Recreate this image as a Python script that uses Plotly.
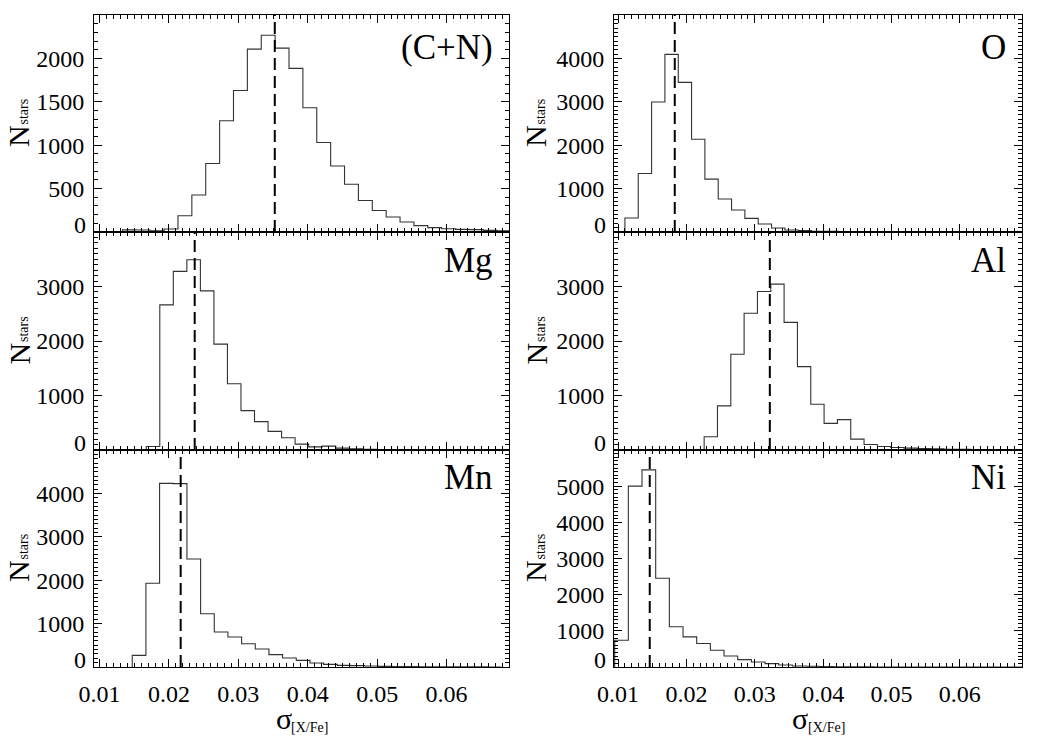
import plotly.graph_objects as go

# ---------------- data ----------------
panel_names = ["(C+N)", "O", "Mg", "Al", "Mn", "Ni"]

# histogram: first bin edge, bin width, counts per bin
cn_start, cn_width = 0.0093, 0.0020
cn_counts = [0, 0, 25, 23, 15, 35, 187, 427, 790, 1282, 1630, 2107, 2267, 2118, 1885,
             1431, 1031, 760, 550, 363, 248, 172, 115, 73, 50, 38, 30, 27, 19, 15]

o_start, o_width = 0.0110, 0.00195
o_counts = [322, 1349, 2996, 4092, 3448, 2138, 1218, 759, 506, 314, 184, 92, 46, 31,
            15, 15, 8, 8, 0, 0, 0, 0, 0, 0, 0, 0, 0, 0, 0, 0, 0]

mg_start, mg_width = 0.01673, 0.00195
mg_counts = [65, 2662, 3277, 3492, 2920, 1942, 1215, 723, 520, 342, 225, 108, 58, 71,
             34, 22, 15, 9, 6, 4, 3, 2, 0, 0, 0, 0]

al_start, al_width = 0.02259, 0.00195
al_counts = [243, 809, 1757, 2508, 2908, 3043, 2342, 1529, 840, 489, 557, 200, 102, 65,
             46, 34, 28, 22, 15, 12, 10, 8, 6]

mn_start, mn_width = 0.01471, 0.00197
mn_counts = [268, 1931, 4230, 4225, 2490, 1226, 805, 690, 536, 414, 284, 207, 153, 92,
             61, 38, 31, 23, 15, 12, 9, 7, 5, 4, 3, 2, 0]

ni_start, ni_width = 0.0095, 0.0020
ni_counts = [741, 5000, 5450, 2454, 1111, 833, 648, 463, 306, 204, 139, 93, 56, 28,
             19, 12, 8, 5, 3, 2, 0, 0, 0, 0, 0, 0, 0, 0, 0, 0]

# median (dashed line) positions
median_values = [0.03525, 0.01829, 0.02371, 0.0322, 0.02169, 0.01463]

# axis settings
y_max = [2500, 5000, 4000, 4000, 5000, 6000]
y_step = [500, 1000, 1000, 1000, 1000, 1000]
x_tick_vals = [0.01, 0.02, 0.03, 0.04, 0.05, 0.06]
x_tick_text = ["0.01", "0.02", "0.03", "0.04", "0.05", "0.06"]
x_ranges = [[0.0092, 0.0690], [0.0094, 0.0691]]

hists = [(cn_start, cn_width, cn_counts), (o_start, o_width, o_counts),
         (mg_start, mg_width, mg_counts), (al_start, al_width, al_counts),
         (mn_start, mn_width, mn_counts), (ni_start, ni_width, ni_counts)]

# ---------------- layout geometry (pixels) ----------------
W, H = 1050, 750
col_px = [(94, 509), (614, 1022)]
row_px = [(15, 232), (232, 450), (450, 667)]
FONT = "Liberation Serif, Times New Roman, serif"
TICK_SIZE = 24

fig = go.Figure()
layout = dict(width=W, height=H, margin=dict(l=0, r=0, t=0, b=0, autoexpand=False),
              paper_bgcolor="white", plot_bgcolor="white", showlegend=False,
              font=dict(family=FONT, color="black", size=TICK_SIZE))
annotations = []
shapes = []


def text_ann(text, px, py, size, angle=0, xanchor="center"):
    return dict(text=text, xref="paper", x=px / W, xanchor=xanchor,
                yref="paper", y=1 - py / H, yanchor="middle", textangle=angle,
                showarrow=False, borderpad=0,
                font=dict(size=size, family=FONT, color="black"))


for i in range(6):
    r, c = divmod(i, 2)
    idx = "" if i == 0 else str(i + 1)
    xa, ya = "x" + idx, "y" + idx
    start, width, counts = hists[i]
    edges = [start + k * width for k in range(len(counts) + 1)]
    xs = [edges[0]] + edges[:-1] + [edges[-1]]
    ys = [0] + list(counts) + [counts[-1]]
    fig.add_trace(go.Scatter(x=xs, y=ys, mode="lines", line=dict(color="#333333", width=1.1, shape="hv"),
                             xaxis=xa, yaxis=ya, hoverinfo="skip"))

    x0, x1 = col_px[c]
    y0, y1 = row_px[r]
    yt = list(range(y_step[i], y_max[i], y_step[i]))
    layout["xaxis" + idx] = dict(
        domain=[x0 / W, x1 / W], range=x_ranges[c], anchor=ya, automargin=False,
        tickvals=x_tick_vals, ticktext=x_tick_text, showticklabels=(r == 2),
        ticks="inside", ticklen=8, tickwidth=1, tickcolor="black",
        minor=dict(ticks="inside", ticklen=4, dtick=0.001, tick0=0, tickcolor="black"),
        mirror="allticks", showline=True, linecolor="black", linewidth=1,
        showgrid=False, zeroline=False, tickfont=dict(size=TICK_SIZE), ticklabelstandoff=5)
    layout["yaxis" + idx] = dict(
        domain=[1 - y1 / H, 1 - y0 / H], range=[0, y_max[i]], anchor=xa, automargin=False,
        tickvals=yt, ticktext=[str(v) for v in yt],
        ticks="inside", ticklen=8, tickwidth=1, tickcolor="black",
        minor=dict(ticks="inside", ticklen=4, dtick=100, tick0=0, tickcolor="black"),
        mirror="allticks", showline=True, linecolor="black", linewidth=1,
        showgrid=False, zeroline=False, tickfont=dict(size=TICK_SIZE), ticklabelstandoff=4)

    # raised "0" label (bottom of the digit sits on the axis)
    annotations.append(dict(text="0", xref=xa + " domain", x=0, xanchor="right", xshift=-6,
                            yref=ya, y=0, yanchor="middle", yshift=7.5, showarrow=False,
                            font=dict(size=TICK_SIZE, family=FONT)))
    # panel label
    annotations.append(dict(text=panel_names[i], xref=xa + " domain", x=1, xanchor="right", xshift=-14,
                            yref=ya + " domain", y=1, yanchor="middle", yshift=[-32, -28, -27][r],
                            showarrow=False, font=dict(size=35, family=FONT)))
    # dashed median line
    shapes.append(dict(type="line", xref=xa, yref=ya + " domain", x0=median_values[i], x1=median_values[i],
                       y0=0, y1=1, line=dict(color="black", width=2, dash="12px,6px")))
    # y title: N with subscript "stars"
    left = 1 if c == 0 else 518
    cy = (y0 + y1) / 2
    annotations.append(text_ann("N", left, cy + 13, 30, -90, xanchor="left"))
    annotations.append(text_ann("stars", left + 22, cy - 12, 14, -90))

# x titles: sigma with subscript [X/Fe]
for c in range(2):
    x0, x1 = col_px[c]
    cx = (x0 + x1) / 2
    annotations.append(text_ann("σ", cx - 18, 718, 30))
    annotations.append(text_ann("[X/Fe]", cx + 8, 727, 14))

layout["annotations"] = annotations
layout["shapes"] = shapes
fig.update_layout(**layout)
fig.write_html("out.html")
